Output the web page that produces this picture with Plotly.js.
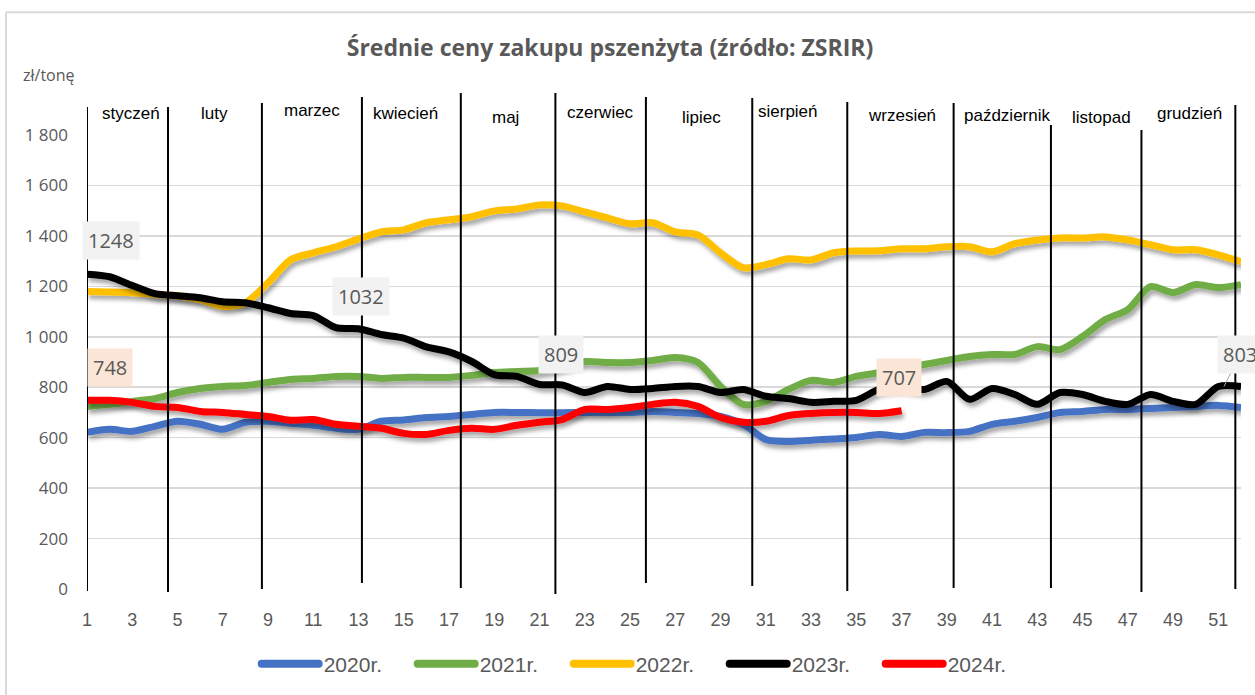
<!DOCTYPE html>
<html>
<head>
<meta charset="utf-8">
<script src="https://cdn.plot.ly/plotly-3.0.1.min.js"></script>
<style>
  html, body { margin: 0; padding: 0; background: #ffffff; }
  #chart { width: 1255px; height: 695px; }
</style>
</head>
<body>
<div id="chart"></div>
<script>
// ---- data ----
const weeks = Array.from({length: 52}, (_, i) => i + 1);
const weekTicks = [1,3,5,7,9,11,13,15,17,19,21,23,25,27,29,31,33,35,37,39,41,43,45,47,49,51];
const seriesNames = ["2020r.", "2021r.", "2022r.", "2023r.", "2024r."];

const y2020 = [621,633,625,645,665,653,633,661,665,657,649,637,633,665,670,680,684,692,700,700,
               699,699,700,700,700,704,700,696,684,653,593,585,590,595,601,613,605,621,620,625,
               653,665,680,700,704,712,712,716,720,724,728,720];
const y2021 = [724,732,744,755,779,795,803,807,819,831,835,843,843,835,839,839,839,847,858,862,
               866,882,902,898,898,906,918,898,803,732,744,791,827,819,843,858,870,890,906,922,
               930,930,961,949,1001,1068,1108,1199,1175,1207,1195,1207];
const y2022 = [1180,1178,1175,1168,1163,1147,1120,1135,1214,1305,1333,1357,1388,1416,1424,1452,1464,1476,1499,1507,
               1523,1519,1495,1471,1448,1452,1416,1404,1333,1274,1286,1309,1305,1333,1340,1341,1349,1349,1357,1357,
               1337,1369,1384,1392,1392,1396,1384,1365,1345,1345,1325,1298];
const y2023 = [1248,1238,1203,1171,1163,1155,1139,1135,1115,1092,1084,1036,1032,1009,995,960,940,902,850,843,
               811,809,779,803,791,795,803,803,779,791,764,755,740,744,748,791,800,791,823,752,
               795,771,732,779,771,744,732,771,744,732,803,803];
const y2024 = [748,748,740,724,720,704,700,692,684,669,672,653,645,637,617,613,629,637,633,649,
               661,672,712,712,720,732,740,724,680,661,665,688,696,700,700,696,707];

const monthNames = ["styczeń","luty","marzec","kwiecień","maj","czerwiec","lipiec","sierpień","wrzesień","październik","listopad","grudzień"];
const monthBoundaries = [1, 4.58, 8.73, 13.15, 17.52, 21.7, 25.7, 30.4, 34.6, 39.3, 43.6, 47.6, 51.75];

// ---- styling / positions ----
const colors = ["#4472C4", "#70AD47", "#FFC000", "#000000", "#FF0000"];
const allY = [y2020, y2021, y2022, y2023, y2024];
const gray = "#595959";
const PX_T = 135, PX_B = 590, PLOT_H = PX_B - PX_T;
const py = p => (PX_B - p) / PLOT_H;     // pixel row -> paper y

const boundaryTops = [107,107,103,97,93,93,97,98,102,103,125,130,105];
const boundaryBottoms = [592,593,590,584,589,595,584,587,592,589,589,593,590];
const monthLabelX = [2.94, 6.65, 10.94, 15.09, 19.51, 23.70, 28.16, 32.0, 37.0, 41.64, 45.83, 49.72];
const monthLabelY = [113,113,110,113,117,112,117,111,115,115,117,113];

const traces = allY.map((ys, i) => ({
  type: "scatter", mode: "lines",
  x: weeks.slice(0, ys.length), y: ys,
  name: seriesNames[i],
  line: {color: colors[i], width: 7, shape: "spline", smoothing: 0.8},
  hoverinfo: "x+y+name"
}));

const shapes = monthBoundaries.map((w, i) => ({
  type: "line", xref: "x", yref: "paper",
  x0: w, x1: w, y0: py(boundaryBottoms[i]), y1: py(boundaryTops[i]),
  line: {color: "#000000", width: 2}
}));
// chart frame (left + top)
shapes.push({type: "line", xref: "paper", yref: "paper",
  x0: (6 - 87) / 1154, x1: (6 - 87) / 1154, y0: py(700), y1: py(12),
  line: {color: "#d9d9d9", width: 2}});
shapes.push({type: "line", xref: "paper", yref: "paper",
  x0: (6 - 87) / 1154, x1: (1260 - 87) / 1154, y0: py(12), y1: py(12),
  line: {color: "#d9d9d9", width: 2}});

const annotations = monthNames.map((m, i) => ({
  text: m, xref: "x", yref: "paper", x: monthLabelX[i], y: py(monthLabelY[i]),
  showarrow: false, xanchor: "center", yanchor: "middle",
  font: {family: "Liberation Sans, Arial, sans-serif", size: 17, color: "#000000"}
}));

annotations.push({
  text: "zł/tonę", xref: "paper", yref: "paper", x: (21 - 87) / 1154, y: py(75),
  xanchor: "left", yanchor: "middle", showarrow: false,
  font: {family: "Open Sans, sans-serif", size: 16, color: gray}
});

function dataLabel(seriesIdx, week, dx, dy, bg) {
  const v = allY[seriesIdx][week - 1];
  return {
    text: String(v), xref: "x", yref: "y", x: week, y: v,
    showarrow: false, xshift: dx, yshift: dy,
    bgcolor: bg, borderpad: 5,
    font: {family: "Open Sans, sans-serif", size: 20, color: gray}
  };
}
annotations.push(dataLabel(3, 1, 24, 34, "#f2f2f2"));
annotations.push(dataLabel(3, 13, 2, 32, "#f2f2f2"));
annotations.push(dataLabel(3, 22, -1, 30, "#f2f2f2"));
annotations.push(dataLabel(4, 1, 23, 33, "#fbe5d6"));
annotations.push(dataLabel(4, 37, -3, 33, "#fbe5d6"));
annotations.push({
  text: String(y2023[51]), xref: "x", yref: "y", x: 51.25, y: y2023[51],
  showarrow: true, ax: 16, ay: -32, arrowhead: 0, arrowwidth: 1, arrowcolor: "#a6a6a6",
  bgcolor: "#f2f2f2", borderpad: 5,
  font: {family: "Open Sans, sans-serif", size: 20, color: gray}
});

const layout = {
  width: 1255, height: 695,
  paper_bgcolor: "#ffffff", plot_bgcolor: "#ffffff",
  margin: {l: 87, r: 14, t: PX_T, b: 695 - PX_B},
  separators: ", ",
  title: {
    text: "<b>Średnie ceny zakupu pszenżyta (źródło: ZSRIR)</b>",
    x: 610 / 1255, xanchor: "center", y: 1 - 48 / 695, yanchor: "middle",
    font: {family: "Open Sans, sans-serif", size: 23, color: gray}
  },
  xaxis: {
    range: [1, 52], tickmode: "array", tickvals: weekTicks, ticktext: weekTicks.map(String),
    showgrid: false, zeroline: false, showline: false, ticks: "", automargin: false,
    tickfont: {family: "Liberation Sans Narrow, Arial Narrow, Liberation Sans, sans-serif", size: 18, color: gray},
    ticklabelstandoff: 18
  },
  yaxis: {
    range: [0, 1800], tickmode: "array", tickvals: [0,200,400,600,800,1000,1200,1400,1600,1800],
    tickformat: ",d", showgrid: true, gridcolor: "#d9d9d9", gridwidth: 1.5,
    zeroline: false, showline: false, ticks: "", automargin: false,
    tickfont: {family: "Open Sans, sans-serif", size: 17, color: gray},
    ticklabelstandoff: 18
  },
  showlegend: true,
  legend: {
    orientation: "h", x: 0.485, xanchor: "center", y: py(664), yanchor: "middle",
    font: {family: "Liberation Sans Narrow, Arial Narrow, Liberation Sans, sans-serif", size: 21, color: gray},
    itemwidth: 57, itemsizing: "constant", entrywidth: 84, entrywidthmode: "pixels",
    bgcolor: "rgba(0,0,0,0)"
  },
  shapes: shapes,
  annotations: annotations
};

Plotly.newPlot("chart", traces, layout, {displayModeBar: false, staticPlot: true}).then(gd => {
  // soft shadow under the data lines (Excel-like)
  const svg = gd.querySelector("svg.main-svg");
  const ns = "http://www.w3.org/2000/svg";
  let defs = svg.querySelector("defs");
  if (!defs) { defs = document.createElementNS(ns, "defs"); svg.insertBefore(defs, svg.firstChild); }
  const f = document.createElementNS(ns, "filter");
  f.setAttribute("id", "lineShadow");
  f.setAttribute("x", "-5%"); f.setAttribute("y", "-50%");
  f.setAttribute("width", "110%"); f.setAttribute("height", "200%");
  f.innerHTML = '<feDropShadow dx="2" dy="4" stdDeviation="2.2" flood-color="#000" flood-opacity="0.35"/>';
  defs.appendChild(f);
  gd.querySelectorAll(".scatterlayer .trace path.js-line").forEach(p => p.setAttribute("filter", "url(#lineShadow)"));
  // thicker rounded legend swatches
  gd.querySelectorAll(".legend .legendlines path").forEach(p => {
    p.style.strokeWidth = "8px";
    p.style.strokeLinecap = "round";
  });
});
</script>
</body>
</html>
